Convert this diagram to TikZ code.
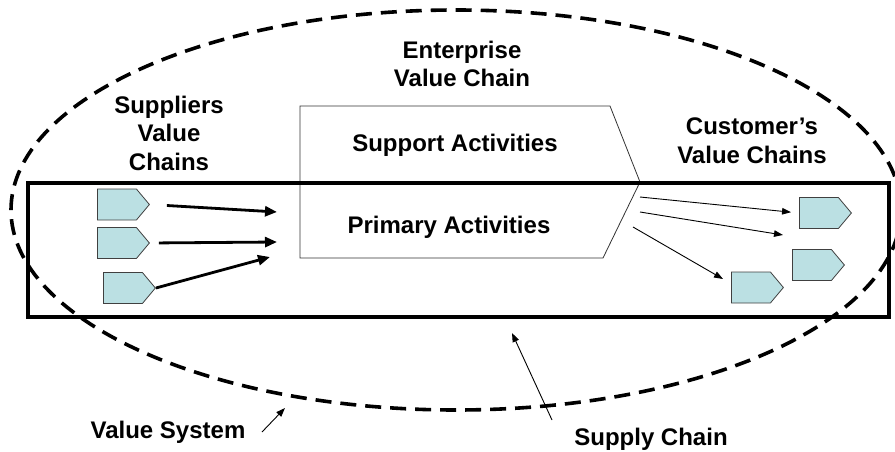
\documentclass[tikz,border=0pt]{standalone}
\usepackage{fontspec}
\setmainfont{Liberation Sans}
\usetikzlibrary{arrows.meta,shapes.symbols}
\definecolor{pentfill}{RGB}{187,224,227}
\begin{document}
\begin{tikzpicture}[x=1pt,y=-1pt,
  lbl/.style={font=\fontsize{24}{28.5}\selectfont\bfseries, align=center, inner sep=0pt},
  pentnode/.style={signal, signal to=east, signal pointer angle=100, fill=pentfill, draw=black!75, line width=0.8pt, minimum width=52pt, minimum height=31pt, inner sep=0pt, anchor=west},
  thickarrow/.style={line width=2.8pt, -{Triangle[length=12pt,width=10pt]}},
  thinarrow/.style={line width=0.9pt, -{Triangle[length=9pt,width=6.5pt]}},
  system/.style={dashed, line width=3.6pt, dash pattern=on 16pt off 9pt},
  chainbox/.style={line width=3.5pt}
]
\useasboundingbox (0,0) rectangle (895,452);
\begin{scope}
\clip (0,0) rectangle (895,452);
% value system ellipse
\draw[system] (456,210) ellipse [x radius=445, y radius=200];
\end{scope}
% enterprise chevron
\coordinate (ch1) at (300,106);
\coordinate (ch2) at (610,106);
\coordinate (ch3) at (640,182);
\coordinate (ch4) at (603,258);
\coordinate (ch5) at (300,258);
\draw[line width=0.8pt, black!80] (ch1) -- (ch2) -- (ch3) -- (ch4) -- (ch5) -- cycle;
% supply chain rectangle
\draw[chainbox] (28,183) rectangle (889,317);
% labels (base = baseline of the last line)
\node[lbl, anchor=base] (ent) at (462,87) {Enterprise\\Value Chain};
\node[lbl, anchor=base] (sup) at (169,170) {Suppliers\\Value\\Chains};
\node[lbl, anchor=base] (cus) at (752,163) {Customer’s\\Value Chains};
\node[lbl, anchor=base] (supp) at (455,151) {Support Activities};
\node[lbl, anchor=base] (prim) at (449,233) {Primary Activities};
\node[lbl, anchor=base] (vs) at (168,438) {Value System};
\node[lbl, anchor=base] (sc) at (651,445) {Supply Chain};
% pentagons
\node[pentnode] (p1) at (97,204.5) {};
\node[pentnode] (p2) at (97,243) {};
\node[pentnode] (p3) at (103,288) {};
\node[pentnode] (c1) at (799,213) {};
\node[pentnode] (c2) at (792,265) {};
\node[pentnode] (c3) at (731,287.5) {};
% supplier arrows
\coordinate (s1) at (277,212);
\coordinate (s2) at (277,242);
\coordinate (s3) at (270,257);
\draw[thickarrow, shorten <=17pt] (p1.east) -- (s1);
\draw[thickarrow, shorten <=9pt] (p2.east) -- (s2);
\draw[thickarrow] (p3.east) -- (s3);
% customer arrows
\coordinate (e1) at (640,197);
\coordinate (e2) at (640,212);
\coordinate (e3) at (633,227);
\coordinate (t2) at (783,235);
\coordinate (t3) at (723,279);
\draw[thinarrow, shorten >=8pt] (e1) -- (c1.west);
\draw[thinarrow] (e2) -- (t2);
\draw[thinarrow] (e3) -- (t3);
% pointer arrows
\coordinate (vsTail) at (262,432);
\coordinate (vsHead) at (285,408);
\coordinate (scTail) at (552,420);
\coordinate (scHead) at (512,333);
\draw[thinarrow] (vsTail) -- (vsHead);
\draw[thinarrow] (scTail) -- (scHead);
\end{tikzpicture}
\end{document}
